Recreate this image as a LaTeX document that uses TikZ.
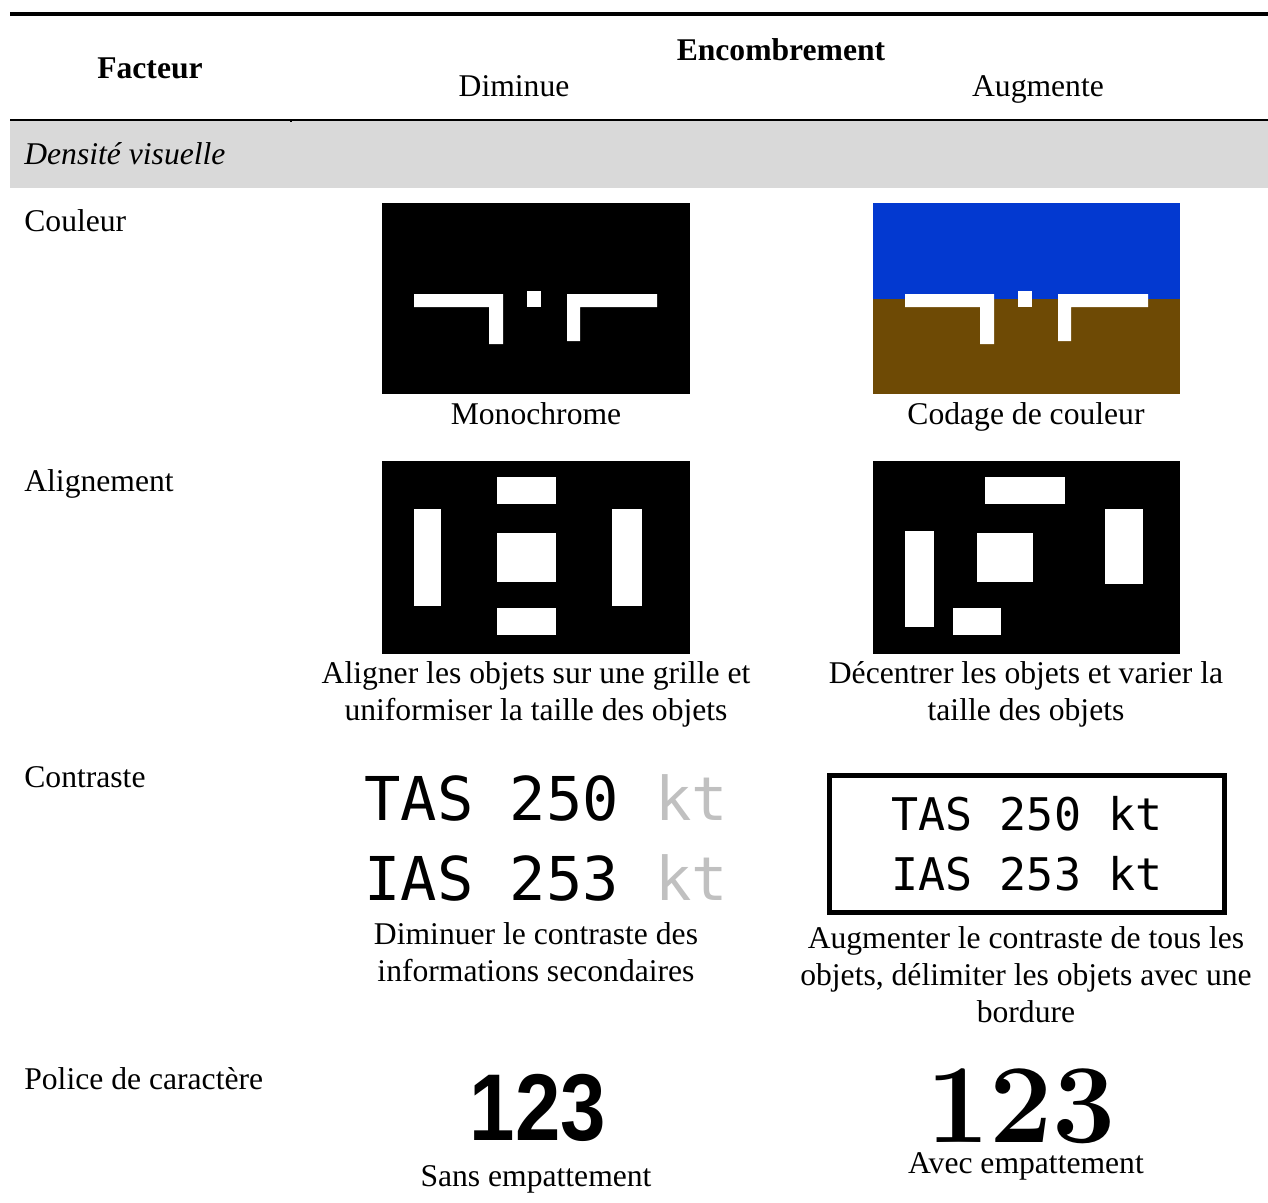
\documentclass[tikz,border=0pt]{standalone}
\usepackage{fontspec}
\usepackage{graphicx}
\setmainfont{Liberation Serif}
\newfontfamily\monofont{DejaVu Sans Mono}
\newfontfamily\narrowfont{Liberation Sans}
\newfontfamily\lmfont{Latin Modern Roman}
\definecolor{bandgray}{RGB}{217,217,217}
\definecolor{skyblue}{RGB}{3,57,208}
\definecolor{groundbrown}{RGB}{110,74,5}
\definecolor{ktgray}{RGB}{192,192,192}

\begin{document}
\begin{tikzpicture}[x=0.02cm, y=-0.02cm,
        txt/.style={font=\fontsize{18}{21}\selectfont, inner sep=0pt, anchor=base},
        bold/.style={txt, font=\fontsize{18}{21}\selectfont\bfseries},
        rowlabel/.style={txt, anchor=base west},
        twolines/.style={txt, align=center}]
            \useasboundingbox (0,0) rectangle (1268,1203);
            \fill[bandgray] (10,121) rectangle (1268,188);
            \fill (10,12) rectangle (1268,16);
            \draw[line width=0.7pt] (10,120) -- (1268,120);
            \fill (290,121) rectangle (292,122.5);
            \node[bold] (Facteur)      at (150,79)  {Facteur};
            \node[bold] (Encombrement) at (781,61)  {Encombrement};
            \node[txt]  (Diminue)      at (514,97)  {Diminue};
            \node[txt]  (Augmente)     at (1038,97) {Augmente};
            \node[rowlabel, font=\fontsize{18}{21}\selectfont\itshape] (Densite) at (24,164) {Densité visuelle};
            \node[rowlabel] (Couleur)    at (24,231)  {Couleur};
            \node[rowlabel] (Alignement) at (24,491)  {Alignement};
            \node[rowlabel] (Contraste)  at (24,787)  {Contraste};
            \node[rowlabel] (Police)     at (24,1089) {Police de caractère};
            \fill (382,203) rectangle (690,394);
            \fill[skyblue] (873,203) rectangle (1180,299);
            \fill[groundbrown] (873,299) rectangle (1180,394);
            \foreach \dx in {0,491} {
                \begin{scope}[shift={(\dx,0)}]
                    \fill[white] (414,294) -- (503,294) -- (503,344) -- (489,344) -- (489,307) -- (414,307) -- cycle;
                    \fill[white] (527,291) rectangle (541,307);
                    \fill[white] (567,341) -- (567,294) -- (657,294) -- (657,307) -- (580,307) -- (580,341) -- cycle;
                \end{scope}
            }
            \node[txt] (Monochrome) at (536,424)  {Monochrome};
            \node[txt] (Codage)     at (1026,424) {Codage de couleur};
            \fill (382,461) rectangle (690,654);
            \fill[white] (497,477) rectangle (556,504);
            \fill[white] (414,509) rectangle (441,606);
            \fill[white] (497,533) rectangle (556,582);
            \fill[white] (497,608) rectangle (556,635);
            \fill[white] (612,509) rectangle (642,606);
            \fill (873,461) rectangle (1180,654);
            \fill[white] (985,477) rectangle (1065,504);
            \fill[white] (1105,509) rectangle (1143,584);
            \fill[white] (905,531) rectangle (934,627);
            \fill[white] (977,533) rectangle (1033,582);
            \fill[white] (953,608) rectangle (1001,635);
            \node[twolines] (Aligner)   at (536,720)  {Aligner les objets sur une grille et\\uniformiser la taille des objets};
            \node[twolines] (Decentrer) at (1026,720) {Décentrer les objets et varier la\\taille des objets};
            \node[anchor=base west, inner sep=0pt, align=left, font=\monofont\fontsize{34.4}{45.5}\selectfont] (TasGris) at (364,900)
                {TAS 250 \textcolor{ktgray}{kt}\\IAS 253 \textcolor{ktgray}{kt}};
            \node[draw, line width=2.8pt, minimum width=7.9cm, minimum height=2.74cm, align=center,
                font=\monofont\fontsize{25.6}{34.1}\selectfont] (TasCadre) at (1027,844) {TAS 250 kt\\IAS 253 kt};
            \node[twolines] (Diminuer)  at (536,981)  {Diminuer le contraste des\\informations secondaires};
            \node[twolines] (Augmenter) at (1026,1022) {Augmenter le contraste de tous les\\objets, délimiter les objets avec une\\bordure};
            \node[txt, font=\narrowfont\bfseries\fontsize{54}{60}\selectfont] (SansSerif) at (538,1140) {\scalebox{0.86}[1]{123}};
            \node[txt, font=\lmfont\bfseries\fontsize{64}{72}\selectfont] (AvecSerif) at (1021,1142) {123};
            \node[txt] (SansEmp) at (536,1186) {Sans empattement};
            \node[txt] (AvecEmp) at (1026,1173) {Avec empattement};
        \end{tikzpicture}
\end{document}
